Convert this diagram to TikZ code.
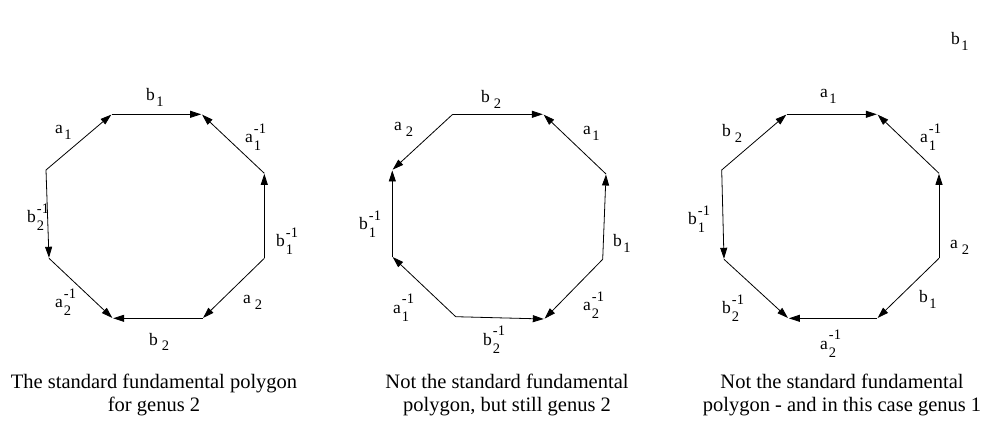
\documentclass[tikz,border=0pt]{standalone}
\usepackage{fontspec}
\setmainfont{Liberation Serif}
\usetikzlibrary{arrows.meta}
\newcommand{\scr}{\fontsize{14.5}{14.5}\selectfont}
\newcommand{\lp}[2]{#1\kern1.5pt\raisebox{-5.5pt}{\scr #2}}
\newcommand{\lps}[2]{#1\kern4pt\raisebox{-5.5pt}{\scr #2}}
\newcommand{\li}[2]{#1\kern1pt\rlap{\raisebox{9.5pt}{\scr -1}}\raisebox{-8pt}{\scr #2}\phantom{\scr -1}}
\tikzset{
  edgearr/.style={-{Triangle[length=11pt,width=7pt]}, line width=0.8pt, shorten >=0.5pt},
  lab/.style={inner sep=0pt, anchor=base west, font=\fontsize{17.5}{17.5}\selectfont},
  capt/.style={inner sep=0pt, anchor=base, font=\fontsize{20.5}{20}\selectfont}
}
\begin{document}
\begin{tikzpicture}[x=1pt,y=-1pt]
\useasboundingbox (0,0) rectangle (987,427);
% ---------- polygon 1 ----------
\coordinate (p1tl) at (111.7,114.3);
\coordinate (p1tr) at (201.7,114.3);
\coordinate (p1ru) at (264.3,173.3);
\coordinate (p1rl) at (264.3,258.3);
\coordinate (p1br) at (202.7,318.3);
\coordinate (p1bl) at (112.7,318.3);
\coordinate (p1ll) at (49,258.3);
\coordinate (p1lu) at (46,170);
\draw[edgearr] (p1lu) -- (p1tl);
\draw[edgearr] (p1tl) -- (p1tr);
\draw[edgearr] (p1ru) -- (p1tr);
\draw[edgearr] (p1rl) -- (p1ru);
\draw[edgearr] (p1rl) -- (p1br);
\draw[edgearr] (p1br) -- (p1bl);
\draw[edgearr] (p1ll) -- (p1bl);
\draw[edgearr] (p1lu) -- (p1ll);
\node[lab] (l1a) at (146,101) {\lp{b}{1}};
\node[lab] (l1b) at (55,134) {\lp{a}{1}};
\node[lab] (l1c) at (245,143) {\li{a}{1}};
\node[lab] (l1d) at (276,247) {\li{b}{1}};
\node[lab] (l1e) at (243,304) {\lps{a}{2}};
\node[lab] (l1f) at (149,345) {\lps{b}{2}};
\node[lab] (l1g) at (55,308) {\li{a}{2}};
\node[lab] (l1h) at (27,223) {\li{b}{2}};
% ---------- polygon 2 ----------
\coordinate (p2tl) at (452.7,114.3);
\coordinate (p2tr) at (543.3,114.3);
\coordinate (p2ru) at (606,174);
\coordinate (p2rl) at (602.7,259.3);
\coordinate (p2br) at (544.3,319);
\coordinate (p2bl) at (455.7,316.7);
\coordinate (p2ll) at (392.3,256.7);
\coordinate (p2lu) at (392.3,170);
\draw[edgearr] (p2tl) -- (p2tr);
\draw[edgearr] (p2ru) -- (p2tr);
\draw[edgearr] (p2rl) -- (p2ru);
\draw[edgearr] (p2rl) -- (p2br);
\draw[edgearr] (p2bl) -- (p2br);
\draw[edgearr] (p2bl) -- (p2ll);
\draw[edgearr] (p2ll) -- (p2lu);
\draw[edgearr] (p2tl) -- (p2lu);
\node[lab] (l2a) at (481,103) {\lps{b}{2}};
\node[lab] (l2b) at (394,131) {\lps{a}{2}};
\node[lab] (l2c) at (583,135) {\lp{a}{1}};
\node[lab] (l2d) at (613,247) {\lp{b}{1}};
\node[lab] (l2e) at (583,311) {\li{a}{2}};
\node[lab] (l2f) at (483,345) {\li{b}{2}};
\node[lab] (l2g) at (393,313) {\li{a}{1}};
\node[lab] (l2h) at (359,230) {\li{b}{1}};
% ---------- polygon 3 ----------
\coordinate (p3tl) at (786.7,114.3);
\coordinate (p3tr) at (877.3,114.3);
\coordinate (p3ru) at (939,173.3);
\coordinate (p3rl) at (939,258.3);
\coordinate (p3br) at (877.3,318.3);
\coordinate (p3bl) at (788.3,318.3);
\coordinate (p3ll) at (724,259.3);
\coordinate (p3lu) at (721.7,170);
\draw[edgearr] (p3lu) -- (p3tl);
\draw[edgearr] (p3tl) -- (p3tr);
\draw[edgearr] (p3ru) -- (p3tr);
\draw[edgearr] (p3rl) -- (p3ru);
\draw[edgearr] (p3rl) -- (p3br);
\draw[edgearr] (p3br) -- (p3bl);
\draw[edgearr] (p3ll) -- (p3bl);
\draw[edgearr] (p3lu) -- (p3ll);
\node[lab] (l3a) at (820,98) {\lp{a}{1}};
\node[lab] (l3b) at (722,137) {\lps{b}{2}};
\node[lab] (l3c) at (920,143) {\li{a}{1}};
\node[lab] (l3d) at (950,249) {\lps{a}{2}};
\node[lab] (l3e) at (919,303) {\lp{b}{1}};
\node[lab] (l3f) at (820,349) {\li{a}{2}};
\node[lab] (l3g) at (722,314) {\li{b}{2}};
\node[lab] (l3h) at (688,225) {\li{b}{1}};
% stray label
\node[lab] (stray) at (951,45) {\lp{b}{1}};
% ---------- captions ----------
\node[capt] (c1a) at (154,388) {The standard fundamental polygon};
\node[capt] (c1b) at (154,411) {for genus 2};
\node[capt] (c2a) at (507,388) {Not the standard fundamental};
\node[capt] (c2b) at (507,411) {polygon, but still genus 2};
\node[capt] (c3a) at (842,388) {Not the standard fundamental};
\node[capt] (c3b) at (842,411) {polygon - and in this case genus 1};
\end{tikzpicture}
\end{document}
